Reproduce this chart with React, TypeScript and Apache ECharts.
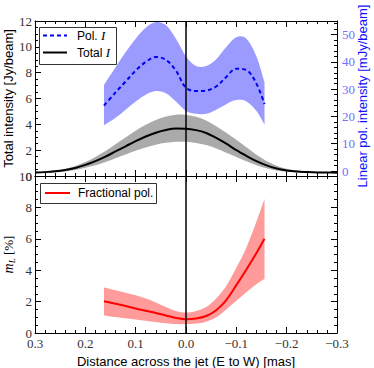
import React, { useEffect, useRef } from "react";
import * as echarts from "echarts";

// ---- Data ----
const X_TOTAL = [0.30, 0.28, 0.26, 0.24, 0.22, 0.20, 0.18, 0.16, 0.14, 0.12, 0.10, 0.08, 0.06, 0.04, 0.02, 0.00, -0.02, -0.04, -0.06, -0.08, -0.10, -0.12, -0.14, -0.16, -0.18, -0.20, -0.22, -0.24, -0.26, -0.28, -0.30];
const TOTAL_I = [0.27, 0.30, 0.36, 0.46, 0.62, 0.86, 1.15, 1.50, 1.90, 2.30, 2.70, 3.06, 3.35, 3.56, 3.67, 3.66, 3.55, 3.33, 2.95, 2.50, 2.00, 1.56, 1.15, 0.82, 0.58, 0.43, 0.35, 0.31, 0.28, 0.27, 0.26];
const TOTAL_LO = [0.22, 0.24, 0.28, 0.35, 0.46, 0.63, 0.83, 1.08, 1.37, 1.66, 1.95, 2.21, 2.42, 2.57, 2.65, 2.65, 2.56, 2.40, 2.13, 1.80, 1.48, 1.14, 0.84, 0.60, 0.43, 0.34, 0.29, 0.26, 0.24, 0.23, 0.22];
const TOTAL_HI = [0.32, 0.36, 0.44, 0.57, 0.78, 1.08, 1.47, 1.93, 2.46, 2.98, 3.50, 3.96, 4.33, 4.60, 4.74, 4.73, 4.59, 4.30, 3.85, 3.35, 2.80, 2.22, 1.65, 1.16, 0.80, 0.56, 0.42, 0.36, 0.32, 0.31, 0.30];

const X_POL = [0.163, 0.14, 0.12, 0.10, 0.08, 0.06, 0.04, 0.02, 0.00, -0.02, -0.04, -0.06, -0.08, -0.10, -0.12, -0.14, -0.156];
const POL_I = [24.0, 28.8, 32.8, 36.8, 40.0, 41.8, 40.8, 36.8, 30.5, 29.3, 29.5, 31.0, 34.5, 37.5, 37.0, 32.0, 24.5];
const POL_LO = [16.7, 19.5, 22.5, 25.5, 28.0, 29.3, 28.5, 25.5, 22.0, 21.0, 21.0, 22.5, 24.5, 26.0, 25.5, 22.0, 17.0];
const POL_HI = [31.5, 38.0, 43.5, 48.5, 52.5, 54.6, 53.5, 48.5, 42.0, 38.5, 38.5, 41.0, 45.5, 49.0, 48.5, 42.0, 32.5];

const FRAC = [2.02, 1.86, 1.72, 1.56, 1.42, 1.28, 1.12, 0.96, 0.88, 0.92, 1.08, 1.45, 2.10, 3.05, 4.05, 5.10, 6.00];
const FRAC_LO = [1.12, 1.02, 0.94, 0.86, 0.78, 0.70, 0.62, 0.57, 0.56, 0.60, 0.72, 1.00, 1.50, 2.05, 2.60, 3.10, 3.45];
const FRAC_HI = [2.90, 2.72, 2.56, 2.40, 2.20, 1.95, 1.65, 1.40, 1.30, 1.40, 1.65, 2.20, 3.00, 4.15, 5.45, 7.10, 8.55];

const X_TICKS_FMT = (v: number) => {
  const r = Math.round(v * 10) / 10;
  if (Math.abs(r) < 1e-9) return "0.0";
  return r < 0 ? "\u2212" + Math.abs(r).toFixed(1) : r.toFixed(1);
};

const SERIF = "Liberation Serif";
const SANS = "Liberation Sans";

function pairs(xs: number[], ys: number[]) {
  return xs.map((x, i) => [x, ys[i]]);
}

// Catmull-Rom spline through screen points -> cubic Bezier path segments
function splineSegs(pts: number[][]) {
  let d = "";
  for (let i = 0; i < pts.length - 1; i++) {
    const p0 = pts[i - 1] || pts[i];
    const p1 = pts[i];
    const p2 = pts[i + 1];
    const p3 = pts[i + 2] || p2;
    const c1x = p1[0] + (p2[0] - p0[0]) / 6;
    const c1y = p1[1] + (p2[1] - p0[1]) / 6;
    const c2x = p2[0] - (p3[0] - p1[0]) / 6;
    const c2y = p2[1] - (p3[1] - p1[1]) / 6;
    d += ` C${c1x},${c1y} ${c2x},${c2y} ${p2[0]},${p2[1]}`;
  }
  return d;
}

function bandSeries(xs: number[], lo: number[], hi: number[], color: string, xi: number, yi: number) {
  return {
    type: "custom", xAxisIndex: xi, yAxisIndex: yi, silent: true, z: 1,
    data: xs.map((x, i) => [x, lo[i], hi[i]]),
    encode: { x: 0, y: [1, 2] },
    renderItem: (params: any, api: any) => {
      if (params.dataIndex !== 0) return null;
      const up = xs.map((x, i) => api.coord([x, hi[i]]));
      const dn = xs.map((x, i) => api.coord([x, lo[i]])).reverse();
      const d =
        `M${up[0][0]},${up[0][1]}` + splineSegs(up) +
        ` L${dn[0][0]},${dn[0][1]}` + splineSegs(dn) + " Z";
      return { type: "path", shape: { pathData: d }, style: { fill: color, stroke: "none" } };
    },
  };
}

const tickLine = { color: "#000", width: 1 };

function xAxisCfg(gridIndex: number, position: string, showLabel: boolean, show = true) {
  return {
    type: "value", gridIndex, position, show,
    min: -0.3, max: 0.3, interval: 0.1, inverse: true,
    axisLine: { show: true, onZero: false, lineStyle: tickLine },
    axisTick: { show: true, inside: true, length: 6, lineStyle: tickLine },
    minorTick: { show: true, splitNumber: 5, length: 3, lineStyle: tickLine },
    splitLine: { show: false }, minorSplitLine: { show: false },
    axisLabel: {
      show: showLabel, formatter: X_TICKS_FMT, fontFamily: SERIF, fontSize: 13,
      color: "#333", margin: 4, showMinLabel: true, showMaxLabel: true,
    },
  };
}

export default function App() {
  const ref = useRef<HTMLDivElement>(null);
  useEffect(() => {
    if (!ref.current) return;
    const chart = echarts.init(ref.current, null, { renderer: "svg" });
    const option: any = {
      animation: false,
      grid: [
        { left: 35, right: 37, top: 21, height: 155, outerBoundsMode: "none", containLabel: false },
        { left: 35, right: 37, top: 176, height: 157, outerBoundsMode: "none", containLabel: false },
        { left: 35, right: 37, top: 21, height: 150, outerBoundsMode: "none", containLabel: false },
      ],
      xAxis: [
        xAxisCfg(0, "bottom", false),
        xAxisCfg(0, "top", false),
        {
          ...xAxisCfg(1, "bottom", true),
          name: "Distance across the jet (E to W) [mas]",
          nameLocation: "middle", nameGap: 22,
          nameTextStyle: { fontFamily: SANS, fontSize: 13, color: "#000" },
        },
        xAxisCfg(1, "top", false),
        xAxisCfg(2, "bottom", false, false),
      ],
      yAxis: [
        {
          type: "value", gridIndex: 0, position: "left", min: 0, max: 12, interval: 2,
          axisLine: { show: true, onZero: false, lineStyle: tickLine },
          axisTick: { show: true, inside: true, length: 6, lineStyle: tickLine },
          minorTick: { show: true, splitNumber: 4, length: 3, lineStyle: tickLine },
          splitLine: { show: false },
          axisLabel: { fontFamily: SERIF, fontSize: 13, color: "#333", margin: 3, showMinLabel: true, showMaxLabel: true },
          name: "Total intensity [Jy/beam]", nameLocation: "middle", nameGap: 20, nameMoveOverlap: false,
          nameTextStyle: { fontFamily: SANS, fontSize: 13, color: "#000" },
        },
        {
          type: "value", gridIndex: 0, position: "right", min: 0, max: 12, interval: 2,
          axisLine: { show: true, onZero: false, lineStyle: tickLine },
          axisTick: { show: false }, axisLabel: { show: false }, splitLine: { show: false },
        },
        {
          type: "value", gridIndex: 1, position: "left", min: 0, max: 10, interval: 2,
          axisLine: { show: true, onZero: false, lineStyle: tickLine },
          axisTick: { show: true, inside: true, length: 6, lineStyle: tickLine },
          minorTick: { show: true, splitNumber: 4, length: 3, lineStyle: tickLine },
          splitLine: { show: false },
          axisLabel: { fontFamily: SERIF, fontSize: 13, color: "#333", margin: 3, showMinLabel: true, showMaxLabel: true },
          name: "{m|m}{l|L} {t|[%]}", nameLocation: "middle", nameGap: 19, nameMoveOverlap: false,
          nameTextStyle: {
            fontFamily: SERIF, fontSize: 13, color: "#000",
            rich: {
              m: { fontFamily: SERIF, fontStyle: "italic", fontSize: 14, color: "#000", lineHeight: 16 },
              l: { fontFamily: SERIF, fontStyle: "italic", fontSize: 9, color: "#000", verticalAlign: "bottom", lineHeight: 16, padding: [6, 0, 0, 0] },
              t: { fontFamily: SERIF, fontSize: 13, color: "#000", lineHeight: 16 },
            },
          },
        },
        {
          type: "value", gridIndex: 1, position: "right", min: 0, max: 10, interval: 2,
          axisLine: { show: true, onZero: false, lineStyle: tickLine },
          axisTick: { show: true, inside: true, length: 6, lineStyle: tickLine },
          minorTick: { show: true, splitNumber: 4, length: 3, lineStyle: tickLine },
          splitLine: { show: false }, axisLabel: { show: false },
        },
        {
          type: "value", gridIndex: 2, position: "right", min: 0, max: 55, interval: 10,
          axisLine: { show: false, onZero: false },
          axisTick: { show: true, inside: true, length: 6, lineStyle: tickLine },
          minorTick: { show: true, splitNumber: 5, length: 3, lineStyle: tickLine },
          splitLine: { show: false },
          axisLabel: {
            fontFamily: SERIF, fontSize: 13, color: "#7070ff", margin: 5,
            formatter: (v: number) => (v % 10 === 0 ? String(v) : ""),
          },
          name: "Linear pol. intensity [mJy/beam]", nameLocation: "middle", nameGap: 19, nameMoveOverlap: false,
          nameTextStyle: { fontFamily: SANS, fontSize: 13, color: "#1010ff" },
        },
      ],
      series: [
        bandSeries(X_TOTAL, TOTAL_LO, TOTAL_HI, "#aaaaaa", 0, 0),
        {
          name: "Total I", type: "line", xAxisIndex: 0, yAxisIndex: 0,
          data: pairs(X_TOTAL, TOTAL_I), smooth: 0.35, symbol: "none",
          lineStyle: { color: "#000", width: 2 }, z: 3,
          markLine: {
            symbol: "none", silent: true, label: { show: false },
            lineStyle: { color: "#000", width: 1.5, type: "solid" },
            data: [{ xAxis: 0 }], z: 5,
          },
        },
        bandSeries(X_POL, POL_LO, POL_HI, "#9b9bff", 4, 4),
        {
          name: "Pol. I", type: "line", xAxisIndex: 4, yAxisIndex: 4,
          data: pairs(X_POL, POL_I), smooth: 0.35, symbol: "none",
          lineStyle: { color: "#0000ee", width: 2, type: [4, 3] }, z: 3,
        },
        bandSeries(X_POL, FRAC_LO, FRAC_HI, "#ff9b9b", 2, 2),
        {
          name: "Fractional pol.", type: "line", xAxisIndex: 2, yAxisIndex: 2,
          data: pairs(X_POL, FRAC), smooth: 0.35, symbol: "none",
          lineStyle: { color: "#ff0000", width: 2 }, z: 3,
          markLine: {
            symbol: "none", silent: true, label: { show: false },
            lineStyle: { color: "#000", width: 1.5, type: "solid" },
            data: [{ xAxis: 0 }], z: 5,
          },
        },
      ],
      graphic: [
        { type: "rect", z: 100, shape: { x: 39.5, y: 27.5, width: 77, height: 37 }, style: { fill: "#fff", stroke: "#333", lineWidth: 1 } },
        { type: "line", z: 101, shape: { x1: 43, y1: 35.5, x2: 67, y2: 35.5 }, style: { stroke: "#0000ee", lineWidth: 2, lineDash: [4, 3] } },
        {
          type: "text", z: 101, x: 77, y: 35.5,
          style: {
            text: "{s|Pol. }{i|I}", verticalAlign: "middle",
            rich: { s: { fontFamily: SANS, fontSize: 12, fill: "#000" }, i: { fontFamily: SERIF, fontStyle: "italic", fontSize: 13, fill: "#000" } },
          },
        },
        { type: "line", z: 101, shape: { x1: 43, y1: 52.5, x2: 67, y2: 52.5 }, style: { stroke: "#000", lineWidth: 2 } },
        {
          type: "text", z: 101, x: 77, y: 52.5,
          style: {
            text: "{s|Total }{i|I}", verticalAlign: "middle",
            rich: { s: { fontFamily: SANS, fontSize: 12, fill: "#000" }, i: { fontFamily: SERIF, fontStyle: "italic", fontSize: 13, fill: "#000" } },
          },
        },
        { type: "rect", z: 100, shape: { x: 40.5, y: 183.5, width: 116, height: 20 }, style: { fill: "#fff", stroke: "#333", lineWidth: 1 } },
        { type: "line", z: 101, shape: { x1: 45, y1: 193, x2: 70, y2: 193 }, style: { stroke: "#ff0000", lineWidth: 2 } },
        {
          type: "text", z: 101, x: 78, y: 193,
          style: { text: "Fractional pol.", fontFamily: SANS, fontSize: 12, fill: "#000", verticalAlign: "middle" },
        },
      ],
    };
    chart.setOption(option);
    return () => chart.dispose();
  }, []);
  return <div ref={ref} style={{ width: 374, height: 368, position: "absolute", left: 0, top: 0 }} />;
}
